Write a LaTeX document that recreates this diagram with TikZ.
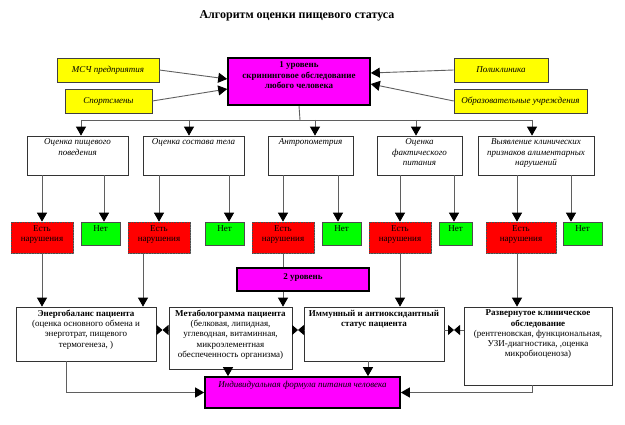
\documentclass[tikz,border=0pt]{standalone}
\usepackage{fontspec}
\setmainfont{Liberation Serif}
\usetikzlibrary{arrows.meta,shadows}
\definecolor{ylw}{RGB}{255,255,0}
\definecolor{mag}{RGB}{255,0,255}
\definecolor{rd}{RGB}{255,0,0}
\definecolor{grn}{RGB}{0,255,0}
\definecolor{linec}{RGB}{95,95,95}
\begin{document}
\begin{tikzpicture}[x=1pt,y=-1pt,
  every node/.style={font=\fontsize{9}{10.3}\selectfont, inner sep=0pt, align=center},
  conn/.style={draw=linec, line width=0.9pt},
  arr/.style={conn, -{Triangle[length=9pt,width=10pt,color=black]}},
  tie/.style={conn, -{Triangle[length=6pt,width=10pt,color=black]}},
  shd/.style={drop shadow={shadow xshift=1pt,shadow yshift=-1pt,fill=black!55,opacity=1}},
  ybox/.style={shd, fill=ylw, draw=black!75, line width=0.6pt, font=\fontsize{9}{10.3}\selectfont\itshape},
  mbox/.style={fill=mag, draw=black, line width=1.6pt},
  wbox/.style={shd, fill=white, draw=black!80, line width=0.7pt},
  rbox/.style={shd, fill=rd, draw=black!70, line width=0.6pt, densely dotted},
  gbox/.style={shd, fill=grn, draw=black!70, line width=0.6pt},
  itx/.style={font=\fontsize{9}{10.3}\selectfont\itshape},
]
\useasboundingbox (0,0) rectangle (625,425);

% title
\node[font=\fontsize{12}{14}\selectfont\bfseries] (title) at (297,16) {Алгоритм оценки пищевого статуса};

% top row
\node[ybox, minimum width=102pt, minimum height=24pt] (msch) at (108,70) {МСЧ предприятия};
\node[ybox, minimum width=87pt, minimum height=24pt] (sport) at (108.5,101) {Спортсмены};
\node[mbox, minimum width=142pt, minimum height=47pt] (lvl1) at (299,81.5) {};
\node[anchor=north, font=\fontsize{9}{10.8}\selectfont\bfseries] (lvl1t) at ([yshift=-4pt]lvl1.north) {1 уровень\\скрининговое обследование\\любого человека};
\node[ybox, minimum width=94pt, minimum height=24pt] (polik) at (501,70) {Поликлиника};
\node[ybox, minimum width=133pt, minimum height=24pt] (obraz) at (520.5,101) {Образовательные учреждения};

\draw[arr] (msch.east) -- ([yshift=2.5pt]lvl1.west);
\draw[arr] (sport.east) -- ([yshift=-7.5pt]lvl1.west);
\draw[arr] (polik.west) -- ([yshift=8.5pt]lvl1.east);
\draw[arr] (obraz.west) -- ([yshift=-2.5pt]lvl1.east);

% level boxes
\node[wbox, minimum width=101pt, minimum height=39pt] (b1) at (77.5,155.5) {};
\node[wbox, minimum width=101pt, minimum height=39pt] (b2) at (193.5,155.5) {};
\node[wbox, minimum width=85pt, minimum height=39pt] (b3) at (310.5,155.5) {};
\node[wbox, minimum width=85pt, minimum height=39pt] (b4) at (419.5,155.5) {};
\node[wbox, minimum width=116pt, minimum height=39pt] (b5) at (536,155.5) {};
\node[itx, anchor=north] (b1t) at ([yshift=-3pt]b1.north) {Оценка пищевого\\поведения};
\node[itx, anchor=north] (b2t) at ([yshift=-3pt]b2.north) {Оценка состава тела};
\node[itx, anchor=north] (b3t) at ([yshift=-3pt]b3.north) {Антропометрия};
\node[itx, anchor=north] (b4t) at ([yshift=-3pt]b4.north) {Оценка\\фактического\\питания};
\node[itx, anchor=north] (b5t) at ([yshift=-3pt]b5.north) {Выявление клинических\\признаков алиментарных\\нарушений};

\coordinate (bus) at (300,120);
\draw[conn] (lvl1.south) -- (bus);
\draw[conn] ([xshift=3.5pt]b1.north |- bus) -- ([xshift=-4pt]b5.north |- bus);
\draw[arr] ([xshift=3.5pt]b1.north |- bus) -- ([xshift=3.5pt]b1.north);
\draw[arr] ([xshift=-4.5pt]b2.north |- bus) -- ([xshift=-4.5pt]b2.north);
\draw[arr] ([xshift=4.5pt]b3.north |- bus) -- ([xshift=4.5pt]b3.north);
\draw[arr] ([xshift=-3.5pt]b4.north |- bus) -- ([xshift=-3.5pt]b4.north);
\draw[arr] ([xshift=-4pt]b5.north |- bus) -- ([xshift=-4pt]b5.north);

% red / green
\node[rbox, minimum width=62pt, minimum height=31pt] (r1) at (42,237.5) {};
\node[rbox, minimum width=62pt, minimum height=31pt] (r2) at (159,237.5) {};
\node[rbox, minimum width=62pt, minimum height=31pt] (r3) at (283,237.5) {};
\node[rbox, minimum width=62pt, minimum height=31pt] (r4) at (400,237.5) {};
\node[rbox, minimum width=70pt, minimum height=31pt] (r5) at (521,237.5) {};
\foreach \r in {r1,r2,r3,r4,r5}{
  \node[anchor=north] (\r t) at ([yshift=-3.5pt]\r.north) {Есть\\нарушения};
}
\node[gbox, minimum width=39pt, minimum height=23pt] (g1) at (100.5,233.5) {};
\node[gbox, minimum width=39pt, minimum height=23pt] (g2) at (224.5,233.5) {};
\node[gbox, minimum width=39pt, minimum height=23pt] (g3) at (341.5,233.5) {};
\node[gbox, minimum width=33pt, minimum height=23pt] (g4) at (455.5,233.5) {};
\node[gbox, minimum width=39pt, minimum height=23pt] (g5) at (582.5,233.5) {};
\foreach \g in {g1,g2,g3,g4,g5}{
  \node[anchor=north] (\g t) at ([yshift=-3.5pt]\g.north) {Нет};
}

\draw[arr] (r1.north |- b1.south) -- (r1.north);
\draw[arr] ([xshift=3.5pt]g1.north |- b1.south) -- ([xshift=3.5pt]g1.north);
\draw[arr] (r2.north |- b2.south) -- (r2.north);
\draw[arr] ([xshift=4.5pt]g2.north |- b2.south) -- ([xshift=4.5pt]g2.north);
\draw[arr] (r3.north |- b3.south) -- (r3.north);
\draw[arr] ([xshift=-3.5pt]g3.north |- b3.south) -- ([xshift=-3.5pt]g3.north);
\draw[arr] (r4.north |- b4.south) -- (r4.north);
\draw[arr] ([xshift=-1.5pt]g4.north |- b4.south) -- ([xshift=-1.5pt]g4.north);
\draw[arr] ([xshift=-4pt]r5.north |- b5.south) -- ([xshift=-4pt]r5.north);
\draw[arr] ([xshift=-11.5pt]g5.north |- b5.south) -- ([xshift=-11.5pt]g5.north);

% level 2
\node[mbox, minimum width=132pt, minimum height=23pt] (lvl2) at (303,279.5) {};
\node[font=\fontsize{9}{10.3}\selectfont\bfseries] (lvl2t) at ([yshift=2pt]lvl2.center) {2 уровень};

\node[wbox, minimum width=140pt, minimum height=54pt] (energy) at (86,334) {};
\node[wbox, minimum width=123pt, minimum height=62pt] (metab) at (230.5,338) {};
\node[wbox, minimum width=140pt, minimum height=54pt] (immune) at (374,334) {};
\node[wbox, minimum width=148pt, minimum height=78pt] (devel) at (538,346) {};
\node[mbox, minimum width=195pt, minimum height=31pt] (indiv) at (302.5,392.5) {};

\node[anchor=north] (energyt) at ([yshift=-3pt]energy.north) {\textbf{Энергобаланс пациента}\\(оценка основного обмена и\\энерготрат, пищевого\\термогенеза, )};
\node[anchor=north] (metabt) at ([yshift=-3pt]metab.north) {\textbf{Метаболограмма пациента}\\(белковая, липидная,\\углеводная, витаминная,\\микроэлементная\\обеспеченность организма)};
\node[anchor=north, font=\fontsize{9}{10.3}\selectfont\bfseries] (immunet) at ([yshift=-3pt]immune.north) {Иммунный и антиоксидантный\\статус пациента};
\node[anchor=north] (develt) at ([yshift=-3pt]devel.north) {\textbf{Развернутое клиническое}\\\textbf{обследование}\\(рентгеновская, функциональная,\\УЗИ-диагностика, ,оценка\\микробиоценоза)};
\node[itx, anchor=north] (indivt) at ([yshift=-5pt]indiv.north) {Индивидуальная формула питания человека};

% connections to lower boxes
\draw[arr] (r1.south) -- (r1.south |- energy.north);
\draw[arr] ([xshift=-16pt]r2.south) -- ([xshift=-16pt]r2.south |- energy.north);
\draw[conn] (r3.south) -- (r3.south |- lvl2.north);
\draw[arr] ([xshift=-20pt]lvl2.south) -- ([xshift=-20pt]lvl2.south |- metab.north);
\draw[arr] (r4.south) -- (r4.south |- immune.north);
\draw[arr] ([xshift=-4pt]r5.south) -- ([xshift=-4pt]r5.south |- devel.north);

% ties between lower boxes
\coordinate (m1) at (162.5,330);
\coordinate (m2) at (298,330);
\coordinate (m3) at (454,330);
\draw[tie] (energy.east |- m1) -- (m1);
\draw[tie] (metab.west |- m1) -- (m1);
\draw[tie] (metab.east |- m2) -- (m2);
\draw[tie] (immune.west |- m2) -- (m2);
\draw[tie] (immune.east |- m3) -- (m3);
\draw[tie] (devel.west |- m3) -- (m3);

% to individual formula
\draw[arr] ([xshift=-20pt]energy.south) |- (indiv.west);
\draw[arr] ([xshift=-2.5pt]metab.south) -- ([xshift=-2.5pt]metab.south |- indiv.north);
\draw[arr] ([xshift=-6pt]immune.south) -- ([xshift=-6pt]immune.south |- indiv.north);
\draw[arr] ([xshift=-6pt]devel.south) |- (indiv.east);
\end{tikzpicture}
\end{document}
